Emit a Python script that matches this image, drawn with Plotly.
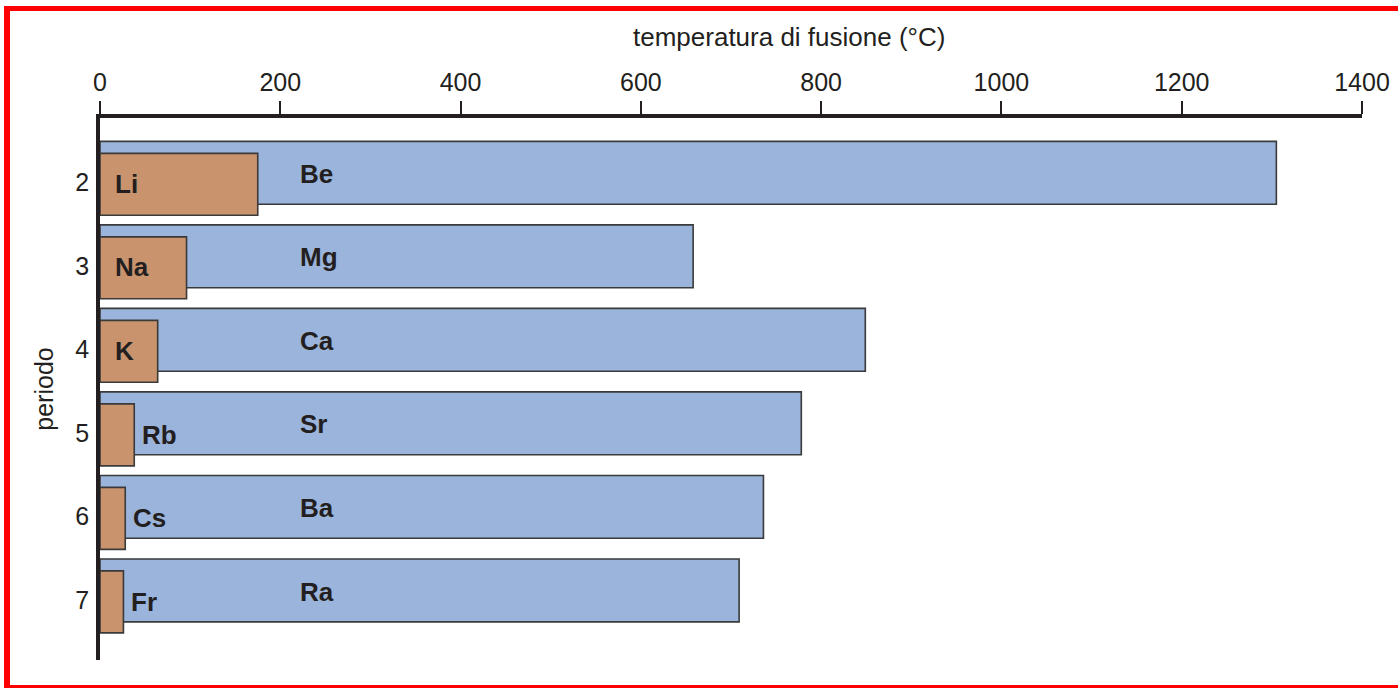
import plotly.graph_objects as go

# period numbers (rows of the chart)
periods = [2, 3, 4, 5, 6, 7]

# alkaline earth metals (group 2) - blue bars
earth_names = ["Be", "Mg", "Ca", "Sr", "Ba", "Ra"]
earth_melt = [1305, 658, 849, 778, 736, 709]

# alkali metals (group 1) - brown bars
alkali_names = ["Li", "Na", "K", "Rb", "Cs", "Fr"]
alkali_melt = [175, 96, 64, 38, 28, 26]

x_ticks = [0, 200, 400, 600, 800, 1000, 1200, 1400]

W, H = 1398, 688
L, R, T, B = 100, 36, 118, 28
FONT = "Liberation Sans, Arial, Helvetica, sans-serif"
INK = "#231f20"


def paper_x(px):
    return (px - L) / (W - L - R)


def paper_y(py):
    return (H - B - py) / (H - T - B)


fig = go.Figure()

fig.add_trace(go.Bar(
    y=periods, x=earth_melt, orientation="h",
    width=0.753, offset=-0.49,
    marker=dict(color="#9bb4dc", line=dict(color="#3a3a3a", width=1.6)),
    hoverinfo="x+y", showlegend=False,
))

fig.add_trace(go.Bar(
    y=periods, x=alkali_melt, orientation="h",
    width=0.742, offset=-0.347,
    marker=dict(color="#c8936d", line=dict(color="#3a3a3a", width=1.6)),
    hoverinfo="x+y", showlegend=False,
))

label_font = dict(family=FONT, size=26, color=INK, weight="bold")

annotations = []
for p, name in zip(periods, earth_names):
    annotations.append(dict(
        x=220, y=p - 0.1, text=name, showarrow=False, xanchor="left",
        font=label_font, xref="x", yref="y",
    ))

for p, name, v in zip(periods, alkali_names, alkali_melt):
    if v > 50:
        ax, shift = 0, 13
    else:
        ax, shift = v, 6
    annotations.append(dict(
        x=ax, xshift=shift, y=p + 0.02, text=name, showarrow=False, xanchor="left",
        font=label_font, xref="x", yref="y",
    ))

# axis title sits right of the plot centre in the original
annotations.append(dict(
    x=paper_x(789), y=paper_y(37), xref="paper", yref="paper",
    text="temperatura di fusione (°C)", showarrow=False,
    xanchor="center", yanchor="middle",
    font=dict(family=FONT, size=26, color=INK),
))

# red frame round the picture
red = "#ff0000"
shapes = [
    dict(type="rect", xref="paper", yref="paper", line=dict(width=0), fillcolor=red,
         x0=paper_x(4), x1=paper_x(10), y0=paper_y(6), y1=paper_y(700), layer="above"),
    dict(type="rect", xref="paper", yref="paper", line=dict(width=0), fillcolor=red,
         x0=paper_x(4), x1=paper_x(1410), y0=paper_y(6), y1=paper_y(11), layer="above"),
    dict(type="rect", xref="paper", yref="paper", line=dict(width=0), fillcolor=red,
         x0=paper_x(4), x1=paper_x(1410), y0=paper_y(685), y1=paper_y(700), layer="above"),
]

axis_font = dict(family=FONT, size=25, color=INK)

fig.update_layout(
    width=W, height=H,
    margin=dict(l=L, r=R, t=T, b=B, autoexpand=False),
    paper_bgcolor="white", plot_bgcolor="white",
    barmode="overlay",
    font=axis_font,
    annotations=annotations,
    shapes=shapes,
    xaxis=dict(
        side="top", range=[0, 1400], tickvals=x_ticks,
        showline=True, linewidth=4, linecolor=INK,
        ticks="outside", ticklen=13, tickwidth=2, tickcolor=INK,
        showgrid=False, zeroline=False,
        tickfont=axis_font, ticklabelstandoff=0,
    ),
    yaxis=dict(
        range=[7.72, 1.23], tickvals=periods,
        showline=True, linewidth=3.5, linecolor=INK,
        ticks="", showgrid=False, zeroline=False,
        ticklabelstandoff=2,
        tickfont=axis_font,
        title=dict(text="periodo", standoff=16, font=axis_font),
    ),
)

fig.write_html("out.html", config={"displayModeBar": False},
               post_script="document.body.style.margin='0';")
